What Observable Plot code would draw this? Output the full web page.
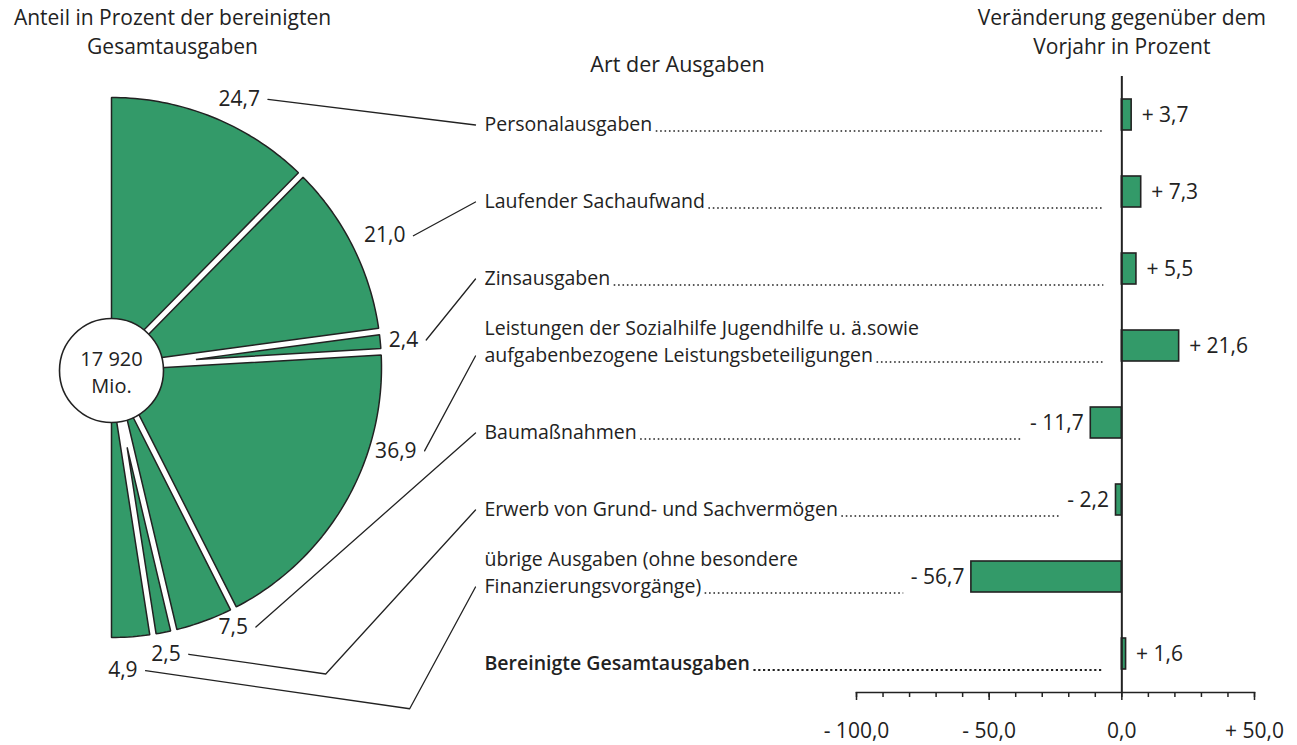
<!DOCTYPE html>
<html><head><meta charset="utf-8">
<script src="https://cdn.jsdelivr.net/npm/d3@7"></script>
<script src="https://cdn.jsdelivr.net/npm/@observablehq/plot@0.6"></script>
<style>
html,body{margin:0;padding:0;background:#fff;}
#chart{position:relative;width:1297px;height:745px;}
#chart svg{position:absolute;left:0;top:0;}
</style></head>
<body><div id="chart"></div>
<script>
// ---------------- DATA ----------------
const categories = [
  "Personalausgaben",
  "Laufender Sachaufwand",
  "Zinsausgaben",
  "Leistungen der Sozialhilfe Jugendhilfe u. ä.sowie\naufgabenbezogene Leistungsbeteiligungen",
  "Baumaßnahmen",
  "Erwerb von Grund- und Sachvermögen",
  "übrige Ausgaben (ohne besondere\nFinanzierungsvorgänge)",
  "Bereinigte Gesamtausgaben"
];
const shares = [24.7, 21.0, 2.4, 36.9, 7.5, 2.5, 4.9];          // Anteil in % (first 7 categories)
const changes = [3.7, 7.3, 5.5, 21.6, -11.7, -2.2, -56.7, 1.6]; // Veränderung in %
const totalLabel = "17 920\nMio.";
const xTicksMinor = [-100, -90, -80, -70, -60, -50, -40, -30, -20, -10, 0, 10, 20, 30, 40, 50];
const xTicksMajor = [-100, -50, 0, 50];
const titleLeft = "Anteil in Prozent der bereinigten\nGesamtausgaben";
const titleMiddle = "Art der Ausgaben";
const titleRight = "Veränderung gegenüber dem\nVorjahr in Prozent";

// ---------------- LAYOUT / STYLE ----------------
const W = 1297, H = 745;
const INK = "#222", GREEN = "#339a69", FONT = '"Open Sans", sans-serif';
const FS_TITLE = 21, FS_MID = 21.5, FS_CAT = 19.5, FS_NUM = 21, FS_CENTER = 20;
const barM = {top: 76, bottom: 53, left: 856, right: 43};
const labelLeftPx = 484;     // left edge of category labels
const leaderEndPx = 475;     // where leader lines meet the labels
const pieC = {x: 111, y: 367}, R = 270; // pie centre / radius in px
const innerR = 52;           // inner circle radius px
const gapHalf = 3.2 / R;     // half width of white gaps
// label placement nudges relative to slice mid-angle (deg) and radius (in R)
const labelNudge = [{da: 8, r: 1.15}, {da: 3, r: 1.22}, {da: 0.5, r: 1.17}, {da: -15, r: 1.2},
                    {da: -9, r: 1.1}, {da: -4, r: 1.1}, {da: -2, r: 1.13}];
// angle (deg) of the last leader segment for leaders with an elbow
const leaderBend = [null, null, null, null, null, 47.6, 61.6];

const fmtSigned = v => (v > 0 ? "+ " : v < 0 ? "- " : "") + d3.format(".1f")(Math.abs(v)).replace(".", ",");
const fmtShare = v => d3.format(".1f")(v).replace(".", ",");

const ctx = document.createElement("canvas").getContext("2d");
const textW = (s, w, fs) => { ctx.font = `${w} ${fs}px ${FONT}`; return ctx.measureText(s).width; };

// ---------------- BAR PANEL ----------------
const xOpt = {domain: [-100, 50], range: [barM.left, W - barM.right]};
const yOpt = {type: "band", domain: categories, range: [barM.top, H - barM.bottom], paddingInner: 0.6, paddingOuter: 0.3, axis: null};
const xS = Plot.scale({x: xOpt});
const yS = Plot.scale({y: yOpt});
const bandCenter = c => yS.apply(c) + yS.bandwidth / 2;

const rows = categories.map((cat, i) => {
  const value = changes[i];
  const bold = i === categories.length - 1;
  const last = cat.split("\n").pop();
  const startPx = labelLeftPx + textW(last, bold ? 600 : 400, FS_CAT) + 4;
  const endPx = value >= 0 ? xS.apply(0) - 18 : xS.apply(value) - 7 - textW(fmtSigned(value), 400, FS_NUM) - 7;
  return {cat, value, bold, dotStart: xS.invert(startPx), dotEnd: xS.invert(endPx)};
});

const barPlot = Plot.plot({
  width: W, height: H,
  marginTop: barM.top, marginBottom: barM.bottom, marginLeft: barM.left, marginRight: barM.right,
  x: xOpt, y: yOpt,
  style: {fontFamily: FONT, fontSize: FS_CAT + "px", color: INK, background: "transparent", overflow: "visible"},
  marks: [
    Plot.ruleY(rows.filter(d => !d.bold), {y: "cat", x1: "dotStart", x2: "dotEnd", dy: 16, stroke: INK, strokeWidth: 1.6, strokeDasharray: "1.6 2.8"}),
    Plot.ruleY(rows.filter(d => d.bold), {y: "cat", x1: "dotStart", x2: "dotEnd", dy: 16, stroke: INK, strokeWidth: 2.2, strokeDasharray: "2.2 2.6"}),
    Plot.barX(rows, {x: "value", y: "cat", fill: GREEN, stroke: INK, strokeWidth: 1.6}),
    Plot.ruleX([0], {stroke: INK, strokeWidth: 2}),
    Plot.frame({anchor: "bottom", stroke: INK, strokeWidth: 1.6}),
    Plot.axisX(xTicksMinor, {anchor: "bottom", tickSize: 5, tickFormat: () => "", label: null, stroke: INK, strokeWidth: 1.5}),
    Plot.axisX(xTicksMajor, {anchor: "bottom", tickSize: 8, tickPadding: 23, tickFormat: fmtSigned, label: null, stroke: INK, strokeWidth: 1.5, fontSize: FS_NUM, fill: INK}),
    Plot.text(rows.filter(d => d.value >= 0), {x: "value", y: "cat", text: d => fmtSigned(d.value), textAnchor: "start", dx: 10, fill: INK, fontSize: FS_NUM}),
    Plot.text(rows.filter(d => d.value < 0), {x: "value", y: "cat", text: d => fmtSigned(d.value), textAnchor: "end", dx: -7, fill: INK, fontSize: FS_NUM}),
    Plot.text(rows.filter(d => !d.bold), {y: "cat", text: "cat", frameAnchor: "left", textAnchor: "start", lineAnchor: "bottom", lineHeight: 1.37, dx: labelLeftPx - barM.left, dy: 16, fill: INK, fontSize: FS_CAT}),
    Plot.text(rows.filter(d => d.bold), {y: "cat", text: "cat", frameAnchor: "left", textAnchor: "start", lineAnchor: "bottom", dx: labelLeftPx - barM.left, dy: 16, fill: INK, fontWeight: 600, fontSize: FS_CAT}),
    Plot.text([titleLeft], {frameAnchor: "top-left", text: d => d, textAnchor: "middle", lineAnchor: "top", lineHeight: 1.37, dx: 172 - barM.left, dy: -72, fill: INK, fontSize: FS_TITLE}),
    Plot.text([titleMiddle], {frameAnchor: "top-left", text: d => d, textAnchor: "middle", lineAnchor: "top", dx: 677 - barM.left, dy: -20, fill: INK, fontSize: FS_MID}),
    Plot.text([titleRight], {x: 0, frameAnchor: "top", text: d => d, textAnchor: "middle", lineAnchor: "top", lineHeight: 1.37, dy: -72, fill: INK, fontSize: FS_TITLE})
  ]
});

// ---------------- PIE PANEL ----------------
const pxOpt = {domain: [-pieC.x / R, (W - pieC.x) / R], range: [0, W], axis: null};
const pyOpt = {domain: [-(H - pieC.y) / R, pieC.y / R], range: [H, 0], axis: null};
const pX = Plot.scale({x: pxOpt}), pY = Plot.scale({y: pyOpt});
const rad = Math.PI / 180;
const pt = (a, r) => [r * Math.sin(a * rad), r * Math.cos(a * rad)];
const cum = d3.cumsum(shares);
const totalShare = cum[cum.length - 1];
const n = shares.length;
const rIn = 0.15;

const slicePts = [];
const slices = shares.map((v, i) => {
  const a0 = (cum[i] - v) / totalShare * 180, a1 = cum[i] / totalShare * 180;
  const off0 = i > 0 ? gapHalf : 0, off1 = i < n - 1 ? gapHalf : 0;
  const v0 = [Math.cos(a0 * rad), -Math.sin(a0 * rad)], v1 = [Math.cos(a1 * rad), -Math.sin(a1 * rad)];
  const det = v0[0] * v1[1] - v0[1] * v1[0];
  let apex = null;
  if (Math.abs(det) > 1e-9) {
    const px = (off0 * v1[1] - (-off1) * v0[1]) / det;
    const py = (v0[0] * (-off1) - v1[0] * off0) / det;
    if (Math.hypot(px, py) > rIn) apex = [px, py];
  }
  const pts = [];
  if (apex) pts.push(apex);
  else pts.push(pt(a0 + Math.asin(off0 / rIn) / rad, rIn));
  const s = a0 + Math.asin(off0) / rad, e = a1 - Math.asin(off1) / rad;
  const steps = Math.max(2, Math.ceil(e - s));
  for (let k = 0; k <= steps; k++) pts.push(pt(s + (e - s) * k / steps, 1));
  if (!apex) pts.push(pt(a1 - Math.asin(off1 / rIn) / rad, rIn));
  pts.forEach(p => slicePts.push({slice: i, x: p[0], y: p[1]}));
  const mid = (a0 + a1) / 2;
  const [lx, ly] = pt(mid + labelNudge[i].da, labelNudge[i].r);
  return {i, value: v, lx, ly};
});

// leader lines from value labels to category labels
const leaderPts = [];
slices.forEach(s => {
  const tx = pX.invert(leaderEndPx);
  const ty = pY.invert(bandCenter(categories[s.i]) + 10);
  leaderPts.push({id: s.i, x: s.lx, y: s.ly});
  const bend = leaderBend[s.i];
  if (bend != null) {
    const d1 = [Math.cos(8.2 * rad), -Math.sin(8.2 * rad)];
    const d2 = [-Math.cos(bend * rad), -Math.sin(bend * rad)];
    const det = d1[0] * (-d2[1]) - (-d2[0]) * d1[1];
    const bx = tx - s.lx, by = ty - s.ly;
    const t = (bx * (-d2[1]) - (-d2[0]) * by) / det;
    leaderPts.push({id: s.i, x: s.lx + t * d1[0], y: s.ly + t * d1[1]});
  }
  leaderPts.push({id: s.i, x: tx, y: ty});
});

const piePlot = Plot.plot({
  width: W, height: H, margin: 0,
  x: pxOpt, y: pyOpt,
  style: {fontFamily: FONT, fontSize: FS_NUM + "px", color: INK, background: "transparent", overflow: "visible"},
  marks: [
    Plot.line(slicePts, {x: "x", y: "y", z: "slice", curve: "linear-closed", fill: GREEN, stroke: INK, strokeWidth: 1.5, strokeLinejoin: "miter"}),
    Plot.dot([{x: 0, y: 0}], {x: "x", y: "y", r: innerR, fill: "white", stroke: INK, strokeWidth: 1.6, dy: 3}),
    Plot.text([{x: 0, y: 0}], {x: "x", y: "y", text: () => totalLabel, lineHeight: 1.37, dy: 3, fill: INK, fontSize: FS_CENTER}),
    Plot.line(leaderPts, {x: "x", y: "y", z: "id", stroke: INK, strokeWidth: 1.3}),
    Plot.text(slices, {x: "lx", y: "ly", text: d => fmtShare(d.value), textAnchor: "end", dx: -8, fill: INK, fontSize: FS_NUM})
  ]
});

const chart = document.getElementById("chart");
chart.appendChild(piePlot);
chart.appendChild(barPlot);
</script>
</body></html>
